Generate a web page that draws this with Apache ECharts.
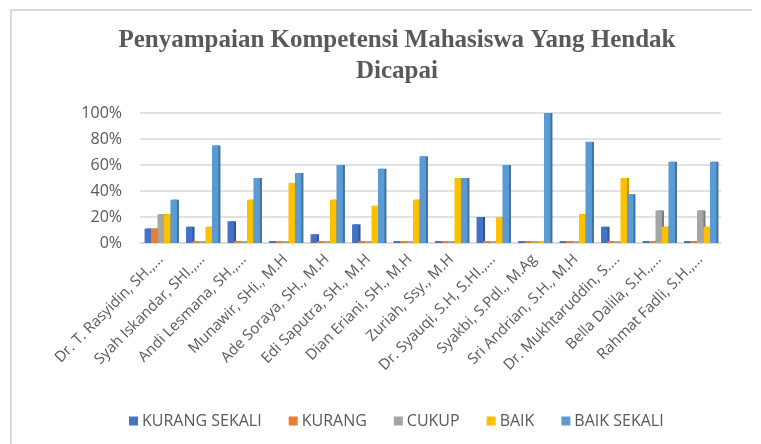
<html>
<head>
    <meta charset="utf-8">
    <title>Penyampaian Kompetensi</title>
    <script src="https://cdn.jsdelivr.net/npm/echarts@6/dist/echarts.min.js"></script>
    <style>
        html, body { margin: 0; padding: 0; background: #fff; }
    </style>
</head>
<body>
<div id="chart" style="width: 761px; height: 444px"></div>
<script>
    // nama dosen (label sumbu x, dipotong seperti di gambar)
    var categories = [
        'Dr. T. Rasyidin, SH.,...', 'Syah Iskandar, SHI.,...', 'Andi Lesmana, SH.,...',
        'Munawir, SHi., M.H', 'Ade Soraya, SH., M.H', 'Edi Saputra, SH., M.H',
        'Dian Eriani, SH., M.H', 'Zuriah, Ssy., M.H', 'Dr. Syauqi, S.H, S.HI.,...',
        'Syakbi, S.Pdl., M.Ag', 'Sri Andrian, S.H., M.H', 'Dr. Mukhtaruddin, S....',
        'Bella Dalila, S.H.,...', 'Rahmat Fadli, S.H.,...'
    ];
    // nilai dalam persen
    var kurangSekali = [11.1, 12.5, 16.7, 0, 6.7, 14.3, 0, 0, 20, 0, 0, 12.5, 0, 0];
    var kurang       = [11.1, 0, 0, 0, 0, 0, 0, 0, 0, 0, 0, 0, 0, 0];
    var cukup        = [22.2, 0, 0, 0, 0, 0, 0, 0, 0, 0, 0, 0, 25, 25];
    var baik         = [22.2, 12.5, 33.3, 46.2, 33.3, 28.6, 33.3, 50, 20, 0, 22.2, 50, 12.5, 12.5];
    var baikSekali   = [33.3, 75, 50, 53.8, 60, 57.1, 66.7, 50, 60, 100, 77.8, 37.5, 62.5, 62.5];
    var yTicks = [0, 20, 40, 60, 80, 100];

    var seriesNames = ['KURANG SEKALI', 'KURANG', 'CUKUP', 'BAIK', 'BAIK SEKALI'];
    var seriesData = [kurangSekali, kurang, cukup, baik, baikSekali];
    var colors = ['#4472C4', '#ED7D31', '#A5A5A5', '#FFC000', '#5B9BD5'];
    var sideColors = ['#2F5597', '#AE5A21', '#7B7B7B', '#BF9000', '#41719C'];

    var series = [];
    for (var i = 0; i < seriesNames.length; i++) {
        series.push({
            name: seriesNames[i],
            type: 'bar',
            data: seriesData[i],
            barGap: '0%',
            barCategoryGap: '22%',
            barMinHeight: 2,
            itemStyle: {
                color: colors[i],
                shadowColor: sideColors[i],
                shadowOffsetX: 2,
                shadowOffsetY: 0,
                shadowBlur: 0
            }
        });
    }

    var option = {
        animation: false,
        color: colors,
        title: {
            text: 'Penyampaian Kompetensi Mahasiswa Yang Hendak\nDicapai',
            left: 392,
            textAlign: 'center',
            top: 20,
            textStyle: {
                fontFamily: 'Liberation Serif',
                fontWeight: 'bold',
                fontSize: 25,
                lineHeight: 31,
                color: '#595959'
            }
        },
        legend: {
            data: seriesNames,
            left: 124,
            top: 408,
            itemWidth: 9,
            itemHeight: 9,
            itemGap: 27,
            icon: 'rect',
            textStyle: {
                fontFamily: 'Open Sans',
                fontSize: 16,
                color: '#595959',
                padding: [0, 0, 0, -1]
            }
        },
        grid: {
            left: 140,
            right: 40,
            top: 113,
            bottom: 201,
            containLabel: false
        },
        xAxis: {
            type: 'category',
            data: categories,
            axisLine: { lineStyle: { color: '#D9D9D9', width: 1.5 } },
            axisTick: { show: false },
            axisLabel: {
                interval: 0,
                rotate: 45,
                margin: 14,
                fontFamily: 'Open Sans',
                fontSize: 15,
                color: '#595959'
            }
        },
        yAxis: {
            type: 'value',
            min: yTicks[0],
            max: yTicks[yTicks.length - 1],
            interval: 20,
            axisLine: { show: false },
            axisTick: { show: false },
            splitLine: { lineStyle: { color: '#D9D9D9', width: 1.5 } },
            axisLabel: {
                formatter: '{value}%',
                margin: 18,
                fontFamily: 'Open Sans',
                fontSize: 16,
                color: '#595959'
            }
        },
        graphic: [
            { type: 'line', shape: { x1: 10, y1: 10, x2: 752, y2: 10 }, style: { stroke: '#D9D9D9', lineWidth: 2 } },
            { type: 'line', shape: { x1: 11, y1: 10, x2: 11, y2: 444 }, style: { stroke: '#D9D9D9', lineWidth: 2 } }
        ],
        series: series
    };

    var chart = echarts.init(document.getElementById('chart'));
    chart.setOption(option);
</script>
</body>
</html>
